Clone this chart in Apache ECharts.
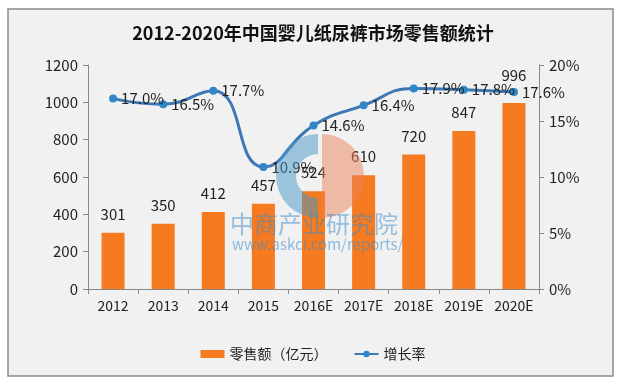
<!DOCTYPE html>
<html><head><meta charset="utf-8">
<script src="https://cdn.jsdelivr.net/npm/echarts@6/dist/echarts.min.js"></script>
<style>html,body{margin:0;padding:0;background:#fff}#c{width:626px;height:384px}</style>
</head><body><div id="c"></div>
<script>
var categories = ['2012','2013','2014','2015','2016E','2017E','2018E','2019E','2020E'];
var sales = [301,350,412,457,524,610,720,847,996];
var growth = [17.0,16.5,17.7,10.9,14.6,16.4,17.9,17.8,17.6];
var title = '2012-2020年中国婴儿纸尿裤市场零售额统计';
var font = '"Microsoft YaHei","Noto Sans CJK SC","Noto Sans",sans-serif';
var barData = sales.map(function(v,i){
  return i === sales.length-1 ? {value:v,label:{distance:20}} : v;
});
var chart = echarts.init(document.getElementById('c'));
chart.setOption({
  animation:false,
  backgroundColor:'#ffffff',
  graphic:[
    {type:'rect',shape:{x:8,y:9,width:605,height:367},style:{fill:'#f1f1f1',stroke:'#8a8a8a',lineWidth:1.5},z:-10},
    {type:'sector',z:100,shape:{cx:318,cy:176,r:42,r0:22,startAngle:Math.PI/2,endAngle:Math.PI*1.5},style:{fill:'rgba(70,150,200,0.5)'}},
    {type:'sector',z:100,shape:{cx:322,cy:176,r:42,r0:0,startAngle:-Math.PI/2,endAngle:Math.PI/2},style:{fill:'rgba(235,130,90,0.5)'}},
    {type:'text',z:100,style:{x:230,y:212,text:'中商产业研究院',font:'24px '+font,fill:'rgba(60,140,200,0.5)'}},
    {type:'text',z:100,style:{x:232,y:237,text:'www.askci.com/reports/',font:'15px '+font,fill:'rgba(60,140,200,0.55)'}}
  ],
  title:{text:title,left:'center',top:19,textStyle:{fontSize:18,fontWeight:'bold',color:'#111',fontFamily:font}},
  legend:{bottom:18,left:'center',itemGap:26,itemWidth:24,itemHeight:8,
    textStyle:{fontSize:14,color:'#222',fontFamily:font},
    data:[{name:'零售额（亿元）',icon:'rect'},{name:'增长率'}]},
  grid:{left:88,right:87,top:65,bottom:95},
  xAxis:{type:'category',data:categories,
    axisLine:{lineStyle:{color:'#888'}},axisTick:{show:true,length:5,lineStyle:{color:'#888'}},
    axisLabel:{fontSize:14,color:'#222',margin:10,interval:0,fontFamily:font}},
  yAxis:[
    {type:'value',min:0,max:1200,interval:200,splitLine:{show:false},
      axisLine:{show:true,lineStyle:{color:'#888'}},axisTick:{show:true,length:5,lineStyle:{color:'#888'}},
      axisLabel:{fontSize:15,color:'#222',margin:10,fontFamily:font,formatter:function(v){return String(v);}}},
    {type:'value',min:0,max:20,interval:5,splitLine:{show:false},
      axisLine:{show:true,lineStyle:{color:'#888'}},axisTick:{show:true,length:5,lineStyle:{color:'#888'}},
      axisLabel:{fontSize:15,color:'#222',margin:10,formatter:'{value}%',fontFamily:font}}
  ],
  series:[
    {name:'零售额（亿元）',type:'bar',data:barData,barWidth:23,z:2,
      itemStyle:{color:'#F57A20'},
      label:{show:true,position:'top',distance:11,fontSize:15,color:'#222',fontFamily:font}},
    {name:'增长率',type:'line',yAxisIndex:1,data:growth,smooth:0.5,z:3,
      symbol:'circle',symbolSize:8,
      lineStyle:{color:'#3E77B6',width:3},itemStyle:{color:'#2F86C8'},
      label:{show:true,position:'right',distance:4,fontSize:15,color:'#222',fontFamily:font,
        formatter:function(p){return p.value.toFixed(1)+'%';}}}
  ]
});
</script></body></html>
